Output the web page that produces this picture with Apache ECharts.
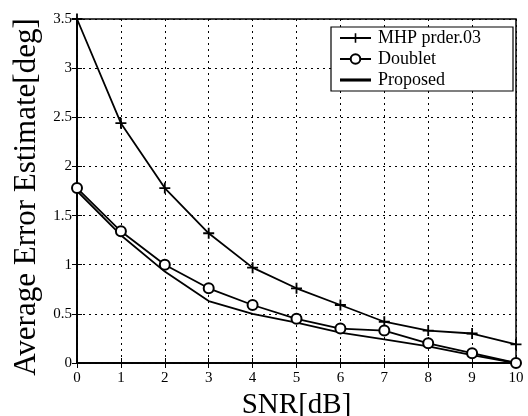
<!DOCTYPE html>
<html><head><meta charset="utf-8">
<script src="https://cdn.jsdelivr.net/npm/echarts@6/dist/echarts.min.js"></script>
<style>html,body{margin:0;padding:0;background:#fff}#c{width:528px;height:416px}</style>
</head><body><div id="c"></div>
<script>
const snr = [0,1,2,3,4,5,6,7,8,9,10];
const mhp = [3.5,2.44,1.78,1.32,0.97,0.76,0.59,0.42,0.33,0.30,0.19];
const doublet = [1.78,1.34,1.0,0.76,0.59,0.45,0.35,0.33,0.2,0.1,0.0];
const proposed = [1.75,1.3,0.93,0.63,0.5,0.41,0.31,0.24,0.17,0.08,0.0];
const seriesNames = ['MHP prder.03','Doublet','Proposed'];
const xTitle = 'SNR[dB]';
const yTitle = 'Average Error Estimate[deg]';

const F = '"Liberation Serif","DejaVu Serif",serif';
const plus = 'path://M4,0h1.6v4h4v1.6h-4v4h-1.6v-4h-4v-1.6h4z';
const pair = a => snr.map((x,i)=>[x,a[i]]);
const chart = echarts.init(document.getElementById('c'));
const axLab = {fontFamily:F,fontSize:15,color:'#000'};
const split = {show:true,lineStyle:{color:'#000',type:[2,4],width:1}};
chart.setOption({
  animation:false,
  backgroundColor:'#fff',
  grid:{left:77,right:12,top:19,bottom:53,outerBoundsMode:'none',containLabel:false,show:true,borderColor:'#000',borderWidth:1.5,backgroundColor:'transparent'},
  xAxis:[{type:'value',min:0,max:10,interval:1,name:xTitle,nameLocation:'middle',nameGap:31,
    nameTextStyle:{fontFamily:F,fontSize:29,color:'#000',verticalAlign:'middle'},
    axisLine:{show:true,lineStyle:{color:'#000',width:1.5}},axisTick:{show:true,inside:true,length:5,lineStyle:{color:'#000'}},
    axisLabel:Object.assign({margin:8},axLab),splitLine:split},
    {type:'value',position:'top',min:0,max:10,interval:1,axisLine:{show:true,lineStyle:{color:'#000',width:1.5}},
    axisTick:{show:true,inside:true,length:5,lineStyle:{color:'#000'}},axisLabel:{show:false},splitLine:{show:false}}],
  yAxis:[{type:'value',min:0,max:3.5,interval:0.5,name:yTitle,nameLocation:'middle',nameGap:49,
    nameTextStyle:{fontFamily:F,fontSize:31,color:'#000',verticalAlign:'middle',padding:[0,12,0,0]},
    axisLine:{show:true,lineStyle:{color:'#000',width:1.5}},axisTick:{show:true,inside:true,length:5,lineStyle:{color:'#000'}},
    axisLabel:Object.assign({margin:5},axLab),splitLine:split},
    {type:'value',position:'right',min:0,max:3.5,interval:0.5,axisLine:{show:true,lineStyle:{color:'#000',width:1.5}},
    axisTick:{show:true,inside:true,length:5,lineStyle:{color:'#000'}},axisLabel:{show:false},splitLine:{show:false}}],
  legend:{left:331,top:27,orient:'vertical',backgroundColor:'#fff',borderColor:'#000',borderWidth:1.2,
    padding:[2,32,2,8],itemGap:3,itemWidth:31,itemHeight:12,
    textStyle:{fontFamily:F,fontSize:18,color:'#000',padding:[0,0,0,2]},
    data:[{name:seriesNames[0]},{name:seriesNames[1]},{name:seriesNames[2],icon:'path://M0,5h10v1h-10z'}]},
  series:[
    {name:seriesNames[0],type:'line',data:pair(mhp),symbol:plus,symbolSize:11,
     lineStyle:{color:'#000',width:1.8},itemStyle:{color:'#000',borderWidth:0}},
    {name:seriesNames[1],type:'line',data:pair(doublet),symbol:'circle',symbolSize:10,
     lineStyle:{color:'#000',width:1.8},itemStyle:{color:'#fff',borderColor:'#000',borderWidth:2}},
    {name:seriesNames[2],type:'line',data:pair(proposed),showSymbol:false,symbol:'none',
     lineStyle:{color:'#000',width:1.8},itemStyle:{color:'#000'}}
  ]
});
</script></body></html>
